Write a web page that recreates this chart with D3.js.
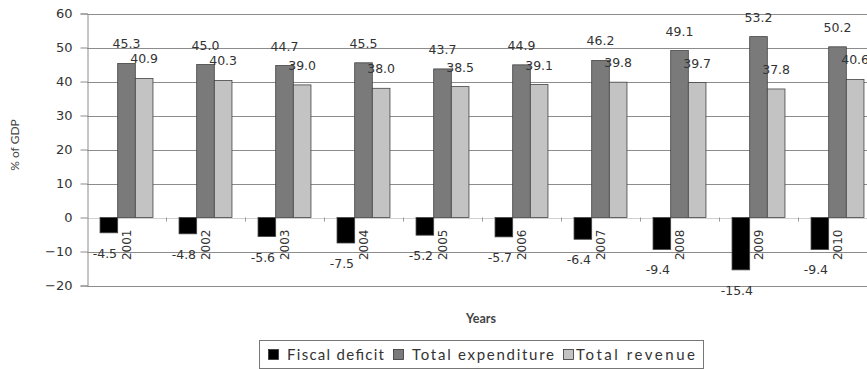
<!DOCTYPE html>
<html>
<head>
<meta charset="utf-8">
<script src="https://cdn.jsdelivr.net/npm/d3@7/dist/d3.min.js"></script>
<style>
  html, body { margin: 0; padding: 0; background: #fff; }
  svg { display: block; }
</style>
</head>
<body>
<svg id="chart" width="867" height="369"></svg>
<script>
// Fiscal indicators, % of GDP
const years = ["2001", "2002", "2003", "2004", "2005", "2006", "2007", "2008", "2009", "2010"];
const fiscalDeficit = [-4.5, -4.8, -5.6, -7.5, -5.2, -5.7, -6.4, -9.4, -15.4, -9.4];
const totalExpenditure = [45.3, 45.0, 44.7, 45.5, 43.7, 44.9, 46.2, 49.1, 53.2, 50.2];
const totalRevenue = [40.9, 40.3, 39.0, 38.0, 38.5, 39.1, 39.8, 39.7, 37.8, 40.6];
const seriesNames = ["Fiscal deficit", "Total expenditure", "Total revenue"];
const seriesColors = ["#000000", "#7a7a7a", "#c3c3c3"];
const yTicks = [-20, -10, 0, 10, 20, 30, 40, 50, 60];

const seriesValues = [fiscalDeficit, totalExpenditure, totalRevenue];
const rows = years.map((yr, i) => ({ year: yr, values: seriesValues.map(s => s[i]) }));

const svg = d3.select("#chart");
const numFont = "'DejaVu Sans', Verdana, sans-serif";
const textFont = "Lato, 'Open Sans', sans-serif";

const plot = { left: 87, right: 877, top: 13.5, bottom: 285.5 };

const y = d3.scaleLinear().domain([-20, 60]).range([plot.bottom, plot.top]);
const x = d3.scaleBand().domain(years).range([plot.left, plot.right])
  .paddingInner(0.33).paddingOuter(0.165);
const xs = d3.scaleBand().domain(seriesNames).range([0, x.bandwidth()]);

// horizontal grid lines
svg.append("g")
  .selectAll("line")
  .data(yTicks)
  .join("line")
  .attr("x1", plot.left).attr("x2", plot.right)
  .attr("y1", d => Math.round(y(d)) + 0.5).attr("y2", d => Math.round(y(d)) + 0.5)
  .attr("stroke", d => d === 0 ? "#d0d0d0" : "#8c8c8c")
  .attr("stroke-width", 1);

// y axis
const yAxis = svg.append("g")
  .attr("transform", `translate(${plot.left + 0.5},0)`)
  .call(d3.axisLeft(y).tickValues(yTicks).tickSize(7).tickPadding(8).tickFormat(d3.format("d")));
yAxis.select(".domain").attr("stroke", "#8c8c8c");
yAxis.selectAll(".tick line").attr("stroke", "#8c8c8c");
yAxis.selectAll(".tick text")
  .attr("font-family", numFont).attr("font-size", 13).attr("fill", "#333");

// category boundary ticks on the zero line
const boundaries = years.slice(1).map(yr => x(yr) - x.step() * x.paddingInner() / 2);
svg.append("g")
  .selectAll("line")
  .data(boundaries)
  .join("line")
  .attr("x1", d => Math.round(d) + 0.5).attr("x2", d => Math.round(d) + 0.5)
  .attr("y1", y(0)).attr("y2", y(0) + 4)
  .attr("stroke", "#999");

// bars
const groups = svg.append("g")
  .selectAll("g")
  .data(rows)
  .join("g")
  .attr("transform", d => `translate(${x(d.year)},0)`);

groups.selectAll("rect")
  .data(d => d.values.map((v, k) => ({ name: seriesNames[k], value: v, k })))
  .join("rect")
  .attr("x", d => xs(d.name))
  .attr("width", xs.bandwidth())
  .attr("y", d => y(Math.max(0, d.value)))
  .attr("height", d => Math.abs(y(d.value) - y(0)))
  .attr("fill", d => seriesColors[d.k])
  .attr("stroke", "#444")
  .attr("stroke-width", 0.8);

// value labels
groups.append("text")
  .attr("x", xs(seriesNames[1]) + xs.bandwidth() / 2)
  .attr("y", d => y(d.values[1]) - 15)
  .attr("text-anchor", "middle")
  .attr("font-family", numFont).attr("font-size", 12.5).attr("fill", "#333")
  .text(d => d.values[1].toFixed(1));

groups.append("text")
  .attr("x", xs(seriesNames[2]) + xs.bandwidth() / 2)
  .attr("y", d => y(d.values[2]) - 15)
  .attr("text-anchor", "middle")
  .attr("font-family", numFont).attr("font-size", 12.5).attr("fill", "#333")
  .text(d => d.values[2].toFixed(1));

groups.append("text")
  .attr("x", xs(seriesNames[0]) + xs.bandwidth() / 2 - 4)
  .attr("y", d => y(d.values[0]) + 25)
  .attr("text-anchor", "middle")
  .attr("font-family", numFont).attr("font-size", 12.5).attr("fill", "#333")
  .text(d => d.values[0].toFixed(1));

// year labels, rotated, below the zero line
groups.append("text")
  .attr("transform", `translate(${xs(seriesNames[1]) + 13},${y(0) + 12}) rotate(-90)`)
  .attr("text-anchor", "end")
  .attr("font-family", numFont).attr("font-size", 12).attr("fill", "#333")
  .text(d => d.year);

// axis titles
svg.append("text")
  .attr("transform", "translate(19,145) rotate(-90)")
  .attr("text-anchor", "middle")
  .attr("font-family", textFont).attr("font-size", 12).attr("fill", "#444")
  .text("% of GDP");

svg.append("text")
  .attr("x", 481).attr("y", 323)
  .attr("text-anchor", "middle")
  .attr("font-family", textFont).attr("font-size", 12.5).attr("font-weight", "bold").attr("fill", "#444")
  .text("Years");

// legend
const legend = svg.append("g").attr("transform", "translate(259,340)");
legend.append("rect")
  .attr("x", 0.5).attr("y", 0.5).attr("width", 444).attr("height", 28)
  .attr("fill", "#fff").attr("stroke", "#777");
const legendLayout = [
  { sq: 9, tx: 28, len: 97 },
  { sq: 134, tx: 153, len: 142 },
  { sq: 304, tx: 317, len: 119 }
];
const items = legend.selectAll("g.item")
  .data(seriesNames)
  .join("g").attr("class", "item");
items.append("rect")
  .attr("x", (d, i) => legendLayout[i].sq + 0.5).attr("y", 9.5)
  .attr("width", 10).attr("height", 10)
  .attr("fill", (d, i) => seriesColors[i]).attr("stroke", "#333").attr("stroke-width", 0.8);
items.append("text")
  .attr("x", (d, i) => legendLayout[i].tx).attr("y", 20)
  .attr("font-family", textFont).attr("font-size", 15).attr("fill", "#333")
  .attr("textLength", (d, i) => legendLayout[i].len).attr("lengthAdjust", "spacing")
  .text(d => d);
</script>
</body>
</html>
